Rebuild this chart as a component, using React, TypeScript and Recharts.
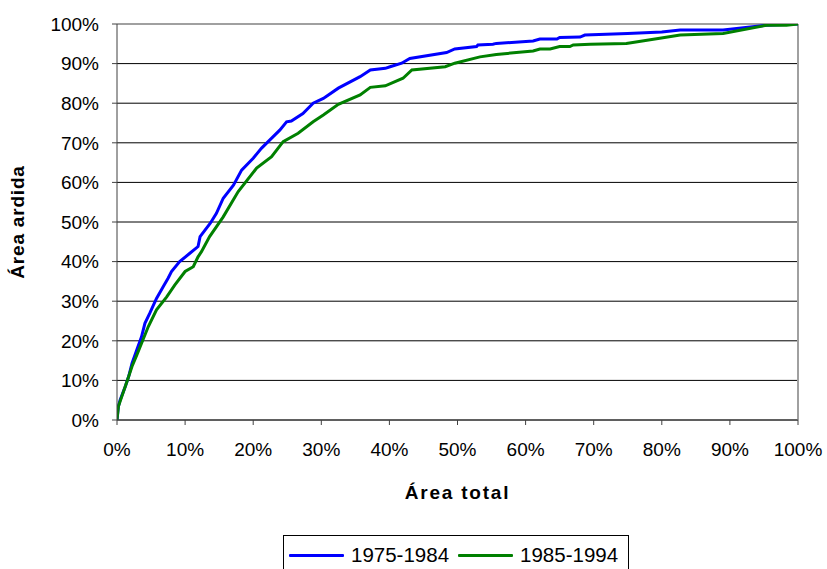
import React from 'react';
import { LineChart, Line, XAxis, YAxis, CartesianGrid, ReferenceLine, Label } from 'recharts';

const seriesNames = ['1975-1984', '1985-1994'];
const seriesColors = ['#0000ff', '#008000'];

const blueX = [0, 0.2, 0.45, 1.2, 1.7, 2.2, 2.9, 3.6, 4.1, 4.8, 5.8, 6.8, 7.5, 8.0, 9.2, 10.7, 11.9, 12.2, 13.7, 14.6, 15.6, 17.1, 18.3, 20, 21.2, 22.9, 23.9, 24.9, 25.6, 27.3, 28.8, 30.3, 32.5, 35.7, 37.2, 39.4, 40.1, 41.8, 43, 48.4, 49.6, 52.8, 53, 55.2, 55.7, 61.1, 62.1, 64.6, 65, 68, 68.7, 75, 80, 82.7, 89, 95.4, 100];
const blueY = [0, 3.4, 5, 8.4, 10.9, 14.3, 17.7, 21, 24.4, 26.9, 30.7, 33.7, 35.8, 37.5, 40, 42.1, 43.8, 46.3, 49.7, 52.2, 56, 59.3, 63.1, 66.1, 68.6, 71.5, 73.2, 75.3, 75.5, 77.4, 80, 81.2, 83.8, 86.7, 88.4, 88.8, 89.2, 90.1, 91.3, 92.8, 93.7, 94.3, 94.7, 94.9, 95.1, 95.7, 96.2, 96.2, 96.6, 96.7, 97.2, 97.6, 98, 98.5, 98.5, 99.7, 100];

const greenX = [0, 0.2, 0.7, 1.2, 1.7, 2.2, 2.9, 3.8, 4.6, 5.8, 7.3, 8.5, 10, 11.2, 11.9, 12.4, 13.6, 15.6, 17.8, 20.5, 22.7, 24.4, 26.6, 28.8, 30.3, 32.5, 35.7, 37.2, 39.4, 42, 43.3, 48.2, 49.6, 53.3, 55.7, 61.1, 62.1, 63.6, 65, 66.5, 67, 69.5, 74.8, 79.7, 82.7, 89, 95.4, 98.3, 100];
const greenY = [0, 3.4, 5.9, 8.4, 10.9, 13.5, 16.4, 20.2, 23.6, 27.8, 31.1, 34.1, 37.5, 38.7, 41.2, 42.5, 46.3, 51.3, 57.7, 63.6, 66.5, 70.3, 72.4, 75.3, 77, 79.7, 82.1, 84, 84.4, 86.3, 88.4, 89.2, 90.1, 91.7, 92.3, 93.2, 93.7, 93.7, 94.3, 94.3, 94.7, 94.9, 95.1, 96.4, 97.2, 97.6, 99.7, 99.7, 100];

const ticks = [0, 10, 20, 30, 40, 50, 60, 70, 80, 90, 100];

const blueData = blueX.map((x, i) => ({ x, y: blueY[i] }));
const greenData = greenX.map((x, i) => ({ x, y: greenY[i] }));
const seriesData = [blueData, greenData];

const FONT = '"Liberation Sans", Arial, sans-serif';
const fmt = (v: number) => `${v}%`;

export default function App() {
  return (
    <div style={{ position: 'absolute', left: 0, top: 0, width: 827, height: 569, background: '#fff', fontFamily: FONT }}>
      <LineChart width={827} height={569} data={blueData} margin={{ top: 24, right: 29, left: 17, bottom: 109 }}>
        <CartesianGrid vertical={false} stroke="#000" strokeWidth={1} />
        <XAxis
          type="number"
          dataKey="x"
          domain={[0, 100]}
          ticks={ticks}
          tickFormatter={fmt}
          height={40}
          tickSize={5}
          tickMargin={18}
          stroke="#404040"
          tick={{ fill: '#000', fontSize: 19, fontFamily: FONT }}
          allowDataOverflow
        >
          <Label value="Área total" position="bottom" offset={26} style={{ fontWeight: 'bold', fontSize: 19, fill: '#000', fontFamily: FONT, letterSpacing: 1.8 }} />
        </XAxis>
        <YAxis
          type="number"
          dataKey="y"
          domain={[0, 100]}
          ticks={ticks}
          tickFormatter={fmt}
          width={100}
          tickSize={5}
          tickMargin={13}
          stroke="#404040"
          tick={{ fill: '#000', fontSize: 19, fontFamily: FONT }}
          allowDataOverflow
        >
          <Label value="Área ardida" angle={-90} position="insideLeft" offset={0} style={{ textAnchor: 'middle', fontWeight: 'bold', fontSize: 19, fill: '#000', fontFamily: FONT, letterSpacing: 0.8 }} />
        </YAxis>
        <ReferenceLine y={100} stroke="#a0a0a0" strokeWidth={2} />
        <ReferenceLine x={100} stroke="#a0a0a0" strokeWidth={2} />
        {seriesData.map((d, i) => (
          <Line
            key={seriesNames[i]}
            data={d}
            dataKey="y"
            name={seriesNames[i]}
            type="linear"
            stroke={seriesColors[i]}
            strokeWidth={3}
            dot={false}
            isAnimationActive={false}
          />
        ))}
      </LineChart>
      <div
        style={{
          position: 'absolute',
          left: 283,
          top: 535,
          width: 346,
          height: 40,
          border: '1px solid #000',
          boxSizing: 'border-box',
          display: 'flex',
          alignItems: 'flex-start',
          paddingTop: 8,
          paddingLeft: 5,
          fontSize: 20.5,
          color: '#000',
          fontFamily: FONT,
          lineHeight: '22px',
        }}
      >
        {seriesNames.map((n, i) => (
          <div key={n} style={{ display: 'flex', alignItems: 'center', marginLeft: i === 0 ? 0 : 9 }}>
            <div style={{ width: 55, height: 3, background: seriesColors[i], borderRadius: 1 }} />
            <span style={{ marginLeft: 7 }}>{n}</span>
          </div>
        ))}
      </div>
    </div>
  );
}
